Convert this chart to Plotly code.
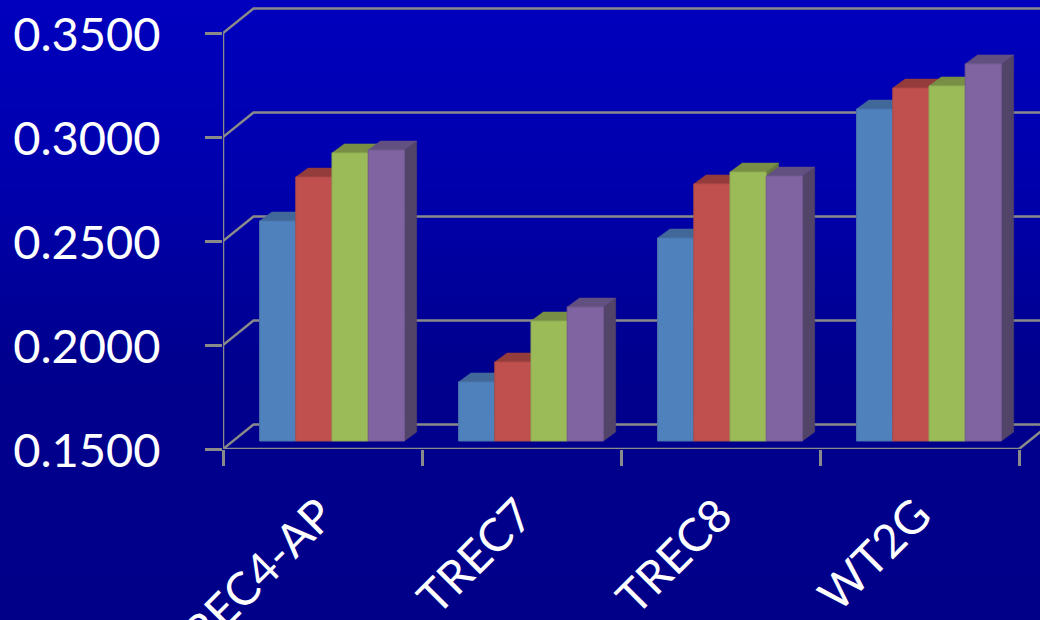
import plotly.graph_objects as go

categories = ["TREC4-AP", "TREC7", "TREC8", "WT2G"]
series_1 = [0.2558, 0.1784, 0.2476, 0.3096]
series_2 = [0.2769, 0.1880, 0.2736, 0.3197]
series_3 = [0.2885, 0.2077, 0.2793, 0.3207]
series_4 = [0.2899, 0.2144, 0.2774, 0.3313]
y_ticks = [0.15, 0.20, 0.25, 0.30, 0.35]

series = [series_1, series_2, series_3, series_4]
front_colors = ["#4F81BD", "#C0504D", "#9BBB59", "#8064A2"]
edge_colors = ["#4A74AC", "#AE4A48", "#8FAB54", "#745B93"]
top_colors = ["#42689A", "#943C3C", "#788E45", "#625080"]
side_colors = ["#3B5C85", "#7F3433", "#66793A", "#524468"]

W, H = 1040, 620
LEFT, FLOOR = 223, 449
UX, UY = 199.0, 2080.0  # pixels per category, pixels per value unit
WALL_DX, WALL_DY = 30.5 / UX, 24.5 / UY
BAR_W = 36.2 / UX
BAR_SHIFT = 9.5 / UX
BAR_LIFT = 8 / UY
DEPTH_DX, DEPTH_DY = 12.3 / UX, 9 / UY
XR = [0, (W - LEFT) / UX]
YR = [0.15, 0.15 + FLOOR / UY]
GRID = "#8A8A8A"

fig = go.Figure()

# gradient background on a full-window subplot
fig.add_trace(go.Heatmap(
    x=[-1, 2], y=[-0.2, 0.42, 0.7, 1.2],
    z=[[134, 134], [142, 142], [172, 172], [202, 202]],
    zmin=0, zmax=255, zsmooth="best", showscale=False, hoverinfo="skip",
    colorscale=[[0, "rgb(0,0,0)"], [1, "rgb(0,0,255)"]],
    xaxis="x", yaxis="y"))

# walls and floor
wx, wy = [], []
for t in y_ticks:
    wx += [0, WALL_DX, XR[1] + 1, None]
    wy += [t, t + WALL_DY, t + WALL_DY, None]
wx += [0, 0, None, 0, 4, 4 + WALL_DX, None]
wy += [y_ticks[0], y_ticks[-1], None, y_ticks[0], y_ticks[0], y_ticks[0] + WALL_DY, None]
fig.add_trace(go.Scatter(x=wx, y=wy, mode="lines", line=dict(color=GRID, width=2.5),
                         hoverinfo="skip", showlegend=False, xaxis="x2", yaxis="y2"))


def bar_left(group, s):
    return group + 0.5 + BAR_SHIFT + (s - 2) * BAR_W


# depth faces, back to front, below all the front faces
for g in range(len(categories)):
    for s, vals in enumerate(series):
        v = vals[g] + BAR_LIFT
        b = y_ticks[0] + BAR_LIFT
        x0 = bar_left(g, s)
        x1 = x0 + BAR_W
        fig.add_trace(go.Scatter(
            x=[x1, x1 + DEPTH_DX, x1 + DEPTH_DX, x1, x1],
            y=[b, b + DEPTH_DY, v + DEPTH_DY, v, b],
            mode="lines", fill="toself", fillcolor=side_colors[s],
            line=dict(color=side_colors[s], width=0.5),
            hoverinfo="skip", showlegend=False, xaxis="x2", yaxis="y2"))
        fig.add_trace(go.Scatter(
            x=[x0, x0 + DEPTH_DX, x1 + DEPTH_DX, x1, x0],
            y=[v, v + DEPTH_DY, v + DEPTH_DY, v, v],
            mode="lines", fill="toself", fillcolor=top_colors[s],
            line=dict(color=top_colors[s], width=0.5),
            hoverinfo="skip", showlegend=False, xaxis="x2", yaxis="y2"))

# front faces
for s, vals in enumerate(series):
    fig.add_trace(go.Bar(
        x=[bar_left(g, s) + BAR_W / 2 for g in range(len(categories))],
        y=[v - y_ticks[0] for v in vals],
        base=y_ticks[0] + BAR_LIFT,
        width=BAR_W,
        marker=dict(color=front_colors[s], line=dict(color=edge_colors[s], width=1)),
        showlegend=False, name=f"Series {s + 1}",
        xaxis="x3", yaxis="y3"))

dom_x = [LEFT / W, 1]
dom_y = [(H - FLOOR) / H, 1]
yfont = dict(family="Lato, 'Open Sans', sans-serif", color="white", size=47)
xfont = dict(family="Lato, 'Open Sans', sans-serif", color="white", size=46)

fig.update_layout(
    width=W, height=H, autosize=False,
    margin=dict(l=0, r=0, t=0, b=0, pad=0),
    paper_bgcolor="#000086", plot_bgcolor="rgba(0,0,0,0)",
    barmode="overlay", showlegend=False,
    xaxis=dict(domain=[0, 1], range=[0, 1], visible=False, fixedrange=True, automargin=False),
    yaxis=dict(domain=[0, 1], range=[0, 1], visible=False, fixedrange=True, automargin=False),
    xaxis2=dict(domain=dom_x, range=XR, anchor="y2", showgrid=False, zeroline=False,
                showline=False, tickmode="array", automargin=False,
                tickvals=list(range(len(categories) + 1)), ticktext=[""] * (len(categories) + 1),
                ticks="outside", ticklen=16, tickwidth=2.5, tickcolor=GRID),
    yaxis2=dict(domain=dom_y, range=YR, anchor="x2", showgrid=False, zeroline=False,
                showline=False, tickmode="array", tickvals=y_ticks, automargin=False,
                ticktext=[f"{t:.4f}" for t in y_ticks],
                ticks="outside", ticklen=17, tickwidth=2.5, tickcolor=GRID,
                tickfont=yfont, ticklabelstandoff=35, ticklabelshift=2),
    xaxis3=dict(domain=dom_x, range=XR, anchor="y2", overlaying="x2", showgrid=False,
                zeroline=False, showline=False, tickmode="array", automargin=False,
                tickvals=[g + 0.5 for g in range(len(categories))], ticktext=categories,
                tickangle=-45, ticks="", tickfont=xfont, ticklabelstandoff=29, ticklabelshift=-2),
    yaxis3=dict(domain=dom_y, range=YR, anchor="x2", overlaying="y2", visible=False,
                automargin=False),
)

fig.write_html("out.html", config={"displayModeBar": False},
               post_script="document.body.style.margin='0';")
